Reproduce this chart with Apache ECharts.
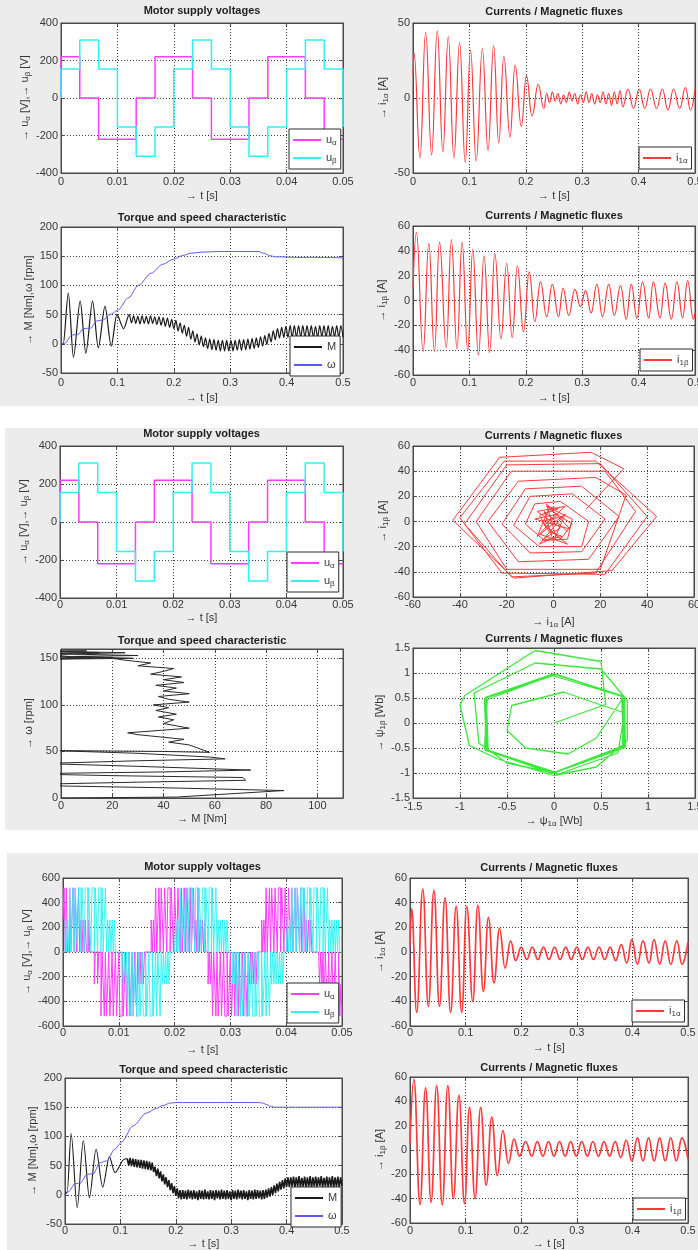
<!DOCTYPE html>
<html><head><meta charset="utf-8">
<script src="https://cdn.jsdelivr.net/npm/echarts@6/dist/echarts.min.js"></script>
<style>html,body{margin:0;padding:0;background:#fff}#c{width:698px;height:1250px}</style>
</head><body><div id="c"></div><script>
// ================= DATA =================
// Panels 1 & 2: six-step motor supply voltages (step points)
const stepTime   = [0, 0, 0.00333, 0.00667, 0.01, 0.01333, 0.01667, 0.02, 0.02333, 0.02667, 0.03, 0.03333, 0.03667, 0.04, 0.04333, 0.04667, 0.05];
const uAlphaStep = [0, 220, 0, -220, -220, 0, 220, 220, 0, -220, -220, 0, 220, 220, 0, -220, -220];
const uBetaStep  = [0, 155, 310, 155, -155, -310, -155, 155, 310, 155, -155, -310, -155, 155, 310, 155, -155];

// Panel 1: stator current i1alpha [t, A]
const i1aP1 = [[0,15],[0.0018,30],[0.0124,-40],[0.0224,44],[0.033,-38],[0.043,45],[0.053,-36],[0.0625,41],[0.0726,-40],[0.0826,37],[0.0926,-43],[0.102,32],[0.112,-42],[0.123,33],[0.133,-35],[0.143,35],[0.152,-30],[0.161,28],[0.172,-26],[0.181,22],[0.192,-19],[0.201,15],[0.211,-12],[0.222,9],[0.232,-7],[0.237,3],[0.242,-3],[0.247,4],[0.252,-2],[0.257,3],[0.262,-4],[0.267,2],[0.272,-3],[0.277,4],[0.282,-2],[0.287,3],[0.292,-4],[0.297,2],[0.302,-3],[0.307,4],[0.312,-3],[0.317,3],[0.322,-4],[0.327,2],[0.332,-3],[0.337,4],[0.342,-4],[0.347,3],[0.352,-5],[0.357,4],[0.362,-4],[0.367,5],[0.372,-6],[0.381,6],[0.391,-7],[0.401,6],[0.411,-7],[0.421,6],[0.432,-7],[0.442,6],[0.452,-8],[0.462,6],[0.473,-7],[0.483,7],[0.492,-8],[0.5,6]];
// Panel 1: stator current i1beta
const i1bP1 = [[0,10],[0.006,55],[0.018,-41],[0.028,46],[0.038,-41],[0.047,47],[0.059,-38],[0.068,49],[0.078,-39],[0.087,47],[0.097,-40],[0.106,41],[0.116,-44],[0.126,36],[0.136,-42],[0.145,38],[0.156,-31],[0.166,30],[0.176,-30],[0.185,28],[0.196,-25],[0.206,23],[0.216,-17],[0.226,15],[0.237,-13],[0.247,13],[0.258,-13],[0.266,10],[0.276,-12],[0.287,9],[0.297,-5],[0.306,8],[0.316,-10],[0.326,13],[0.336,-13],[0.347,13],[0.357,-12],[0.368,12],[0.378,-15],[0.387,13],[0.397,-14],[0.407,15],[0.418,-14],[0.426,15],[0.438,-14],[0.447,14],[0.458,-15],[0.468,15],[0.478,-14],[0.487,16],[0.497,-15],[0.5,-10]];
// Panel 1: torque M (start-up swing) and ripple band sampled from 0.125 s every 3.75 ms
const mStartP1 = [[0,0],[0.004,0],[0.013,87],[0.022,-23],[0.034,73],[0.044,-16],[0.056,73],[0.066,-7],[0.078,64],[0.089,-4],[0.099,50],[0.111,26],[0.121,50]];
const mBandP1T0 = 0.125, mBandP1Dt = 0.00375;
const mBandP1 = [36,48,35,47,34,48,35,47,34,48,35,46,33,46,32,45,30,44,28,42,26,
  40,22,36,18,32,13,28,8,22,3,17,-2,13,-5,10,-8,8,-10,7,-11,
  6,-12,6,-12,6,-12,6,-12,6,-11,7,-11,7,-10,8,-9,9,-8,10,-6,
  12,-4,14,-1,18,3,22,7,26,10,28,11,30,11,31,11,31,11,31,11,
  31,11,31,12,31,11,30,11,31,12,31,11,31,11,30,12,31,11,31,11];
// Panel 1: speed omega [t, rpm]
const wP1 = [[0,0],[0.007,1],[0.019,15],[0.03,16],[0.04,26],[0.053,27],[0.063,39],[0.075,41],[0.087,50],[0.1,57],[0.12,79],[0.137,100],[0.16,121],[0.18,136],[0.2,145],[0.215,151],[0.23,155],[0.25,157],[0.28,158],[0.3,158],[0.33,158],[0.35,158],[0.36,155],[0.37,151],[0.38,149],[0.42,148],[0.46,148],[0.5,147]];

// Panel 2: current trajectory [i1alpha, i1beta]
const iTraj = [[14,10],[30,42],[16,55],[-23,51],[-43,1],[-17,-45],[25,-39],[44,4],[18,48],[-21,48],[-40,3],[-22,-41],[22,-42],[40,4],[20,46],[-20,45],[-38,-2],[-18,-44],[18,-41],[35,8],[22,40],[-18,40],[-33,0],[-20,-38],[20,-38],[31,21],[18,35],[-15,32],[-28,0],[-15,-32],[15,-30],[28,4],[12,28],[-12,26],[-22,-2],[-10,-25],[12,-24],[22,2],[8,22],[-10,20],[-17,-3],[-6,-20],[12,-20],[15,0],[3,16],[-8,14],[-12,-2],[-4,-15],[6,-14],[8,2],[-3,12],[2,10],[-6,5],[-2,-8],[4,-12],[-5,-15],[3,-5],[-7,8],[5,12],[-4,-3],[6,-18],[-6,-10],[2,6],[-8,2],[7,-6],[-3,14],[1,-12],[-6,-18],[4,4],[-5,0],[3,-14],[8,-2],[-2,10],[-7,-12],[5,6],[0,-16],[-4,8],[6,-8]];
// Panel 2: torque-speed trajectory [M, omega]
const mwTraj = [[0,0],[45,1],[87,8],[40,11],[-23,14],[30,17],[72,19],[71,22],[20,24],[-16,26],[40,28],[74,30],[30,34],[-7,37],[30,40],[64,42],[58,44],[30,48],[-4,51],[40,50],[58,49],[50,57],[42,60],[48,63],[30,68],[26,70],[50,75],[40,80],[44,84],[38,87],[45,90],[37,94],[42,97],[36,100],[50,103],[42,106],[38,109],[50,112],[40,115],[45,118],[37,121],[48,124],[40,127],[47,130],[35,133],[40,136],[44,139],[30,142],[35,145],[25,148],[20,150],[5,152],[30,153],[-5,155],[15,156],[-8,157],[10,158],[-10,158],[25,156],[-6,154],[12,150],[-8,152],[20,151],[-5,149],[28,150],[5,152]];
// Panel 2: flux trajectory [psi1alpha, psi1beta]
const psiTraj = [[0,0],[0.55,0.37],[0.5,1.23],[-0.2,1.45],[-0.95,0.55],[-1.0,0.36],[-0.9,-0.45],[-0.6,-0.72],[0.0,-1.05],[0.45,-0.88],[0.78,-0.35],[0.78,0.45],[0.5,1.08],[-0.2,1.2],[-0.85,0.6],[-0.8,-0.4],[-0.5,-0.8],[0.05,-1.02],[0.68,-0.6],[0.75,0.2],[0.1,0.62],[-0.45,0.35],[-0.5,-0.15],[-0.3,-0.5],[0.15,-0.62],[0.45,-0.3],[0.74,0.52],[0.02,0.98],[-0.73,0.5],[-0.73,-0.55],[0,-1.0],[0.75,-0.47],[0.73,0.53],[-0.02,0.95],[-0.71,0.47],[-0.74,-0.52],[0.02,-0.99],[0.74,-0.45],[0.72,0.55],[0.0,0.99],[-0.72,0.52],[-0.7,-0.56],[-0.02,-1.01],[0.76,-0.49],[0.75,0.51],[0.03,0.97],[-0.74,0.49],[-0.72,-0.53],[0.01,-0.98],[0.73,-0.46],[0.74,0.54],[-0.01,0.98],[-0.73,0.51],[-0.71,-0.54],[0,-1.0],[0.75,-0.48],[0.73,0.53]];

// Panel 3: PWM voltages, one level per 0.2 ms step
const pwmDt = 0.0002;
const uAlphaPWM = [260,520,0,520,0,0,520,0,260,520,0,520,0,260,520,0,260,0,260,0,260,0,
  0,260,0,0,0,0,-260,0,0,
  -260,0,0,-520,0,-260,-520,0,-520,-260,0,-520,-260,0,-520,-260,0,-520,-260,0,-520,-520,0,-520,-260,0,-520,-260,0,-520,-260,0,-520,0,-260,-520,0,-260,0,-260,0,-260,
  0,0,0,0,0,0,
  260,0,260,0,520,0,260,520,0,520,260,0,520,260,0,520,520,0,520,260,0,520,260,0,520,260,0,520,0,260,520,0,520,260,0,520,0,260,520,0,260,0,520,0,260,0,260,0,260,
  0,0,
  -260,0,-260,0,-520,0,-260,-520,0,-520,-260,0,-520,-260,0,-520,-520,0,-520,-260,0,-520,-260,0,-520,0,-260,-520,0,-520,-260,0,-520,0,-260,-520,0,-260,0,-260,0,-260,0,-260,
  0,0,0,0,
  260,0,260,0,520,0,260,520,0,520,260,0,520,260,0,520,520,0,520,260,0,520,260,0,520,260,0,520,0,260,520,0,520,260,0,520,0,260,520,0,260,0,260,0,260,0,
  0,0,0,0,0,0,
  -260,0,-260,0,-520,0,-260,-520,0,-520,-260,0,-520,-260,0,-520,-520,0,-520,-260,-520];
const uBetaPWM = [0,0,
  260,0,260,0,520,0,260,520,0,520,260,0,520,520,0,520,260,0,520,520,0,520,260,0,520,520,0,520,260,0,520,520,0,520,0,260,520,0,260,0,260,0,260,0,260,0,
  0,0,0,0,0,0,
  -260,0,-260,0,-520,0,-260,-520,0,-520,-260,0,-520,-520,0,-520,-260,0,-520,-520,0,-520,-260,0,-520,-520,0,-520,-260,0,-520,0,-260,-520,0,-260,0,-260,0,-260,0,-260,0,
  0,0,0,0,
  260,0,260,0,520,0,260,520,0,520,260,0,520,520,0,520,260,0,520,520,0,520,260,0,520,520,0,520,260,0,520,520,0,520,0,260,520,0,260,0,260,0,260,0,260,0,260,
  0,0,0,0,
  -260,0,-260,0,-520,0,-260,-520,0,-520,-260,0,-520,-520,0,-520,-260,0,-520,-520,0,-520,-260,0,-520,-520,0,-520,-260,0,-520,0,-260,-520,0,-260,0,-260,0,-260,0,-260,0,-260,0,-260,
  0,0,0,
  260,0,260,0,520,0,260,520,0,520,260,0,520,520,0,520,260,0,520,520,0,520,260,0,520,520,0,520,260,0,520,520,0,520,0,260,520,0,260,0,260,0,260,0,260,0,260,
  0,0,0];
// Panel 3: currents
const i1aP3 = [[0,5],[0.003,35],[0.012,-49],[0.023,51],[0.033,-44],[0.043,50],[0.053,-44],[0.063,44],[0.073,-49],[0.083,37],[0.093,-49],[0.102,37],[0.113,-40],[0.122,38],[0.132,-32],[0.141,28],[0.151,-25],[0.161,19],[0.171,-13],[0.181,9],[0.19,-7],[0.2,4],[0.21,-6],[0.22,4],[0.23,-6],[0.24,4],[0.25,-6],[0.26,4],[0.27,-6],[0.28,4],[0.29,-6],[0.3,4],[0.31,-6],[0.32,4],[0.33,-6],[0.34,4],[0.35,-6],[0.36,4],[0.37,-7],[0.38,6],[0.39,-9],[0.399,10],[0.409,-10],[0.419,9],[0.43,-9],[0.439,10],[0.449,-10],[0.459,9],[0.469,-10],[0.48,9],[0.489,-10],[0.5,8]];
const i1bP3 = [[0,5],[0.007,58],[0.018,-45],[0.028,51],[0.038,-43],[0.048,53],[0.058,-45],[0.068,53],[0.078,-40],[0.088,45],[0.098,-44],[0.107,35],[0.117,-40],[0.127,35],[0.137,-29],[0.147,27],[0.157,-21],[0.167,16],[0.177,-11],[0.187,9],[0.197,-5],[0.208,7],[0.219,-5],[0.229,7],[0.239,-5],[0.249,7],[0.259,-5],[0.269,7],[0.279,-5],[0.289,7],[0.299,-5],[0.309,7],[0.319,-5],[0.329,7],[0.339,-5],[0.349,7],[0.359,-5],[0.369,7],[0.379,-6],[0.389,8],[0.399,-9],[0.409,10],[0.419,-9],[0.429,10],[0.439,-9],[0.449,10],[0.459,-9],[0.469,10],[0.479,-9],[0.489,10],[0.5,-8]];
// Panel 3: torque (start-up swing) + ripple band sampled from 0.1125 s every 2.5 ms
const mStartP3 = [[0,0],[0.004,5],[0.011,105],[0.022,-22],[0.033,93],[0.044,-5],[0.056,78],[0.068,13],[0.08,65],[0.09,38],[0.107,61],[0.1125,62]];
const mBandP3T0 = 0.1125, mBandP3Dt = 0.0025;
const mBandP3 = [62,50,63,49,62,48,61,47,60,46,60,45,59,44,58,43,57,42,55,39,
  48,32,45,28,40,23,35,18,30,13,25,8,20,3,15,-2,11,-6,8,-8,
  8,-7,7,-8,9,-6,7,-8,8,-7,6,-9,8,-7,7,-8,9,-7,6,-8,8,-7,7,-9,8,-6,7,-8,9,-7,
  7,-8,8,-7,6,-9,8,-7,7,-8,9,-6,7,-8,8,-7,6,-9,8,-7,7,-8,9,-7,8,-6,7,-8,8,-7,
  9,-5,11,-3,13,0,16,3,19,6,22,9,25,11,28,13,30,13,30,14,
  31,13,30,14,32,13,29,14,31,13,30,14,32,12,30,14,31,13,30,15,32,13,29,14,31,13,30,14,32,12,30,14,31,13,30,15];
const wP3 = [[0,0],[0.006,5],[0.018,19],[0.027,20],[0.04,35],[0.051,36],[0.063,55],[0.075,58],[0.09,78],[0.102,90],[0.123,118],[0.147,140],[0.165,148],[0.177,153],[0.19,157],[0.2,158],[0.25,158],[0.3,158],[0.35,158],[0.357,157],[0.365,154],[0.372,151],[0.38,150],[0.5,150]];

// Axis ranges [min, max, interval] and texts
const xRange = [[0,0.05,0.01],[0,0.5,0.1],[0,0.5,0.1],[0,0.5,0.1],[0,0.05,0.01],[-60,60,20],[0,110,20],[-1.5,1.5,0.5],[0,0.05,0.01],[0,0.5,0.1],[0,0.5,0.1],[0,0.5,0.1]];
const yRange = [[-400,400,200],[-50,50,50],[-50,200,50],[-60,60,20],[-400,400,200],[-60,60,20],[0,160,50],[-1.5,1.5,0.5],[-600,600,200],[-60,60,20],[-50,200,50],[-60,60,20]];
const titles = ['Motor supply voltages','Currents / Magnetic fluxes','Torque and speed characteristic','Currents / Magnetic fluxes',
  'Motor supply voltages','Currents / Magnetic fluxes','Torque and speed characteristic','Currents / Magnetic fluxes',
  'Motor supply voltages','Currents / Magnetic fluxes','Torque and speed characteristic','Currents / Magnetic fluxes'];
const UNAME = '→ u{s|α} [V],→ u{s|β} [V]';
const xNames = ['→ t [s]','→ t [s]','→ t [s]','→ t [s]','→ t [s]','→ i{s|1α} [A]','→ M [Nm]','→ ψ{s|1α} [Wb]','→ t [s]','→ t [s]','→ t [s]','→ t [s]'];
const yNames = [UNAME,'→ i{s|1α} [A]','→ M [Nm],ω [rpm]','→ i{s|1β} [A]',UNAME,'→ i{s|1β} [A]','→ ω [rpm]','→ ψ{s|1β} [Wb]',UNAME,'→ i{s|1α} [A]','→ M [Nm],ω [rpm]','→ i{s|1β} [A]'];
const legendItems = [['uα','uβ'],['i1α'],['M','ω'],['i1β'],['uα','uβ'],null,null,null,['uα','uβ'],['i1α'],['M','ω'],['i1β']];

// ================= LAYOUT / STYLE =================
const layout = [
 {l:61,t:23,w:282,h:150, ty:10.7, xm:3, xg:16, yg:25.7, lg:[289,129]},
 {l:413,t:23,w:282,h:150, ty:12.3, xm:3, xg:16, yg:23, lg:[639,147]},
 {l:61,t:227,w:282,h:146, ty:218.3, xm:4, xg:17.7, yg:19, lg:[290,336]},
 {l:413,t:226,w:282,h:149, ty:215.7, xm:2, xg:16.3, yg:24, lg:[640,349]},
 {l:60,t:446,w:283,h:152, ty:434, xm:1, xg:12, yg:24.7, lg:[287,552]},
 {l:413,t:446,w:281,h:151, ty:435.7, xm:2, xg:18, yg:22.7},
 {l:61,t:649,w:282,h:149, ty:641, xm:2, xg:14, yg:22.3},
 {l:413,t:648,w:282,h:150, ty:639, xm:3, xg:16, yg:26},
 {l:63,t:878,w:279,h:148, ty:866.7, xm:1, xg:17, yg:26, lg:[287,983]},
 {l:410,t:878,w:278,h:148, ty:868.3, xm:1, xg:15, yg:21.3, lg:[632,1000]},
 {l:65,t:1078,w:277,h:146, ty:1070, xm:1, xg:10.7, yg:24.7, lg:[291,1187]},
 {l:410,t:1077,w:278,h:146, ty:1067.7, xm:2, xg:14, yg:21.3, lg:[633,1198]}
];
const FONT = "'Liberation Sans', Arial, Helvetica, sans-serif";
const TXT = '#383838', AX = '#4a4a4a', GRAY = '#ececec';
const MAG = '#ff3cff', CYA = '#2ef2f2', RED = '#ff3a3a', BLK = '#1a1a1a', BLU = '#5a5aff', GRN = '#3be83b';
const RICH = { s: { fontFamily: FONT, fontSize: 8, lineHeight: 9, verticalAlign: 'bottom', color: TXT } };
const LEG = {'uα':'u{s|α}','uβ':'u{s|β}','i1α':'i{s|1α}','i1β':'i{s|1β}','M':'M','ω':'ω'};

function axis(i, r, name, dim) {
  const g = layout[i];
  const ax = {
    type: 'value', gridIndex: i, min: r[0], max: r[1], interval: r[2],
    position: dim === 'x' ? 'bottom' : 'left',
    name: name, nameLocation: 'middle', nameGap: dim === 'x' ? g.xg : g.yg,
    nameTextStyle: { fontFamily: FONT, fontSize: 11, color: TXT, lineHeight: 14, rich: RICH },
    axisLine: { show: true, onZero: false, lineStyle: { color: AX, width: 1 } },
    axisTick: { show: true, inside: true, length: 4, lineStyle: { color: AX } },
    axisLabel: { fontFamily: FONT, fontSize: 11, color: TXT, margin: dim === 'x' ? g.xm : 3 },
    splitLine: { show: true, lineStyle: { color: '#3c3c3c', type: [1, 2], width: 1 } }
  };
  if (dim === 'y') ax.nameRotate = 90;
  if (i === 6) ax.axisLabel.showMaxLabel = false;
  return ax;
}
// mirrored top/right axes: ticks only (box style)
function mirror(i, r, dim) {
  return { type: 'value', gridIndex: i, min: r[0], max: r[1], interval: r[2], position: dim === 'x' ? 'top' : 'right',
    axisLine: { show: true, onZero: false, lineStyle: { color: AX, width: 1 } },
    axisTick: { show: true, inside: true, length: 4, lineStyle: { color: AX } },
    axisLabel: { show: false }, splitLine: { show: false } };
}

const grid = [], xAxis = [], yAxis = [], title = [], legend = [], series = [];
layout.forEach((g, i) => {
  grid.push({ left: g.l, top: g.t, width: g.w, height: g.h, show: true, backgroundColor: '#fff', borderColor: AX, borderWidth: 1, containLabel: false, outerBoundsMode: 'none' });
  title.push({ text: titles[i], left: g.l + g.w / 2, top: g.ty - 7, textAlign: 'center', padding: 0,
    textStyle: { fontFamily: FONT, fontSize: 11, fontWeight: 'bold', color: '#1e1e1e', lineHeight: 14 } });
  xAxis[i] = axis(i, xRange[i], xNames[i], 'x');
  yAxis[i] = axis(i, yRange[i], yNames[i], 'y');
  xAxis[12 + i] = mirror(i, xRange[i], 'x');
  yAxis[12 + i] = mirror(i, yRange[i], 'y');
  if (legendItems[i]) {
    legend.push({ left: g.lg[0], top: g.lg[1], orient: 'vertical', data: legendItems[i], icon: 'rect',
      itemWidth: 28, itemHeight: 2, itemGap: 4, padding: [4, 4, 4, 4], backgroundColor: '#fff',
      borderColor: '#2a2a2a', borderWidth: 1, selectedMode: false,
      textStyle: { fontFamily: FONT, fontSize: 11, color: TXT, lineHeight: 14, rich: RICH },
      formatter: n => LEG[n] });
  }
});

function line(g, name, data, color, opt) {
  opt = opt || {};
  const s = { type: 'line', name: name, xAxisIndex: g, yAxisIndex: g, data: data, symbol: 'none', showSymbol: false,
    lineStyle: { color: color, width: opt.w || 1, opacity: opt.op || 1 }, itemStyle: { color: color }, animation: false, silent: true, clip: true };
  if (opt.smooth) { s.smooth = opt.smooth; s.smoothMonotone = 'x'; }
  if (opt.step) s.step = opt.step;
  series.push(s);
}
const zipT = (t, v) => t.map((x, k) => [x, v[k]]);
const band = (t0, dt, v) => v.map((y, k) => [t0 + k * dt, y]);

// Panel 1
line(0, 'uα', zipT(stepTime, uAlphaStep), MAG, { step: 'end', w: 1.5 });
line(0, 'uβ', zipT(stepTime, uBetaStep), CYA, { step: 'end', w: 1.5 });
line(1, 'i1α', i1aP1, RED, { smooth: 0.45, w: 1.2 });
line(2, 'M', mStartP1.concat(band(mBandP1T0, mBandP1Dt, mBandP1)), BLK, { smooth: 0.3, w: 1.2 });
line(2, 'ω', wP1, BLU, { smooth: 0.3 });
line(3, 'i1β', i1bP1, RED, { smooth: 0.45, w: 1.2 });
// Panel 2
line(4, 'uα', zipT(stepTime, uAlphaStep), MAG, { step: 'end', w: 1.5 });
line(4, 'uβ', zipT(stepTime, uBetaStep), CYA, { step: 'end', w: 1.5 });
line(5, 'i1β(i1α)', iTraj, RED);
line(6, 'ω(M)', mwTraj, '#2a2a2a');
line(7, 'ψ1β(ψ1α)', psiTraj, GRN, { w: 1.3 });
// Panel 3
line(8, 'uα', uAlphaPWM.map((v, k) => [k * pwmDt, v]), MAG, { step: 'end' });
line(8, 'uβ', uBetaPWM.map((v, k) => [k * pwmDt, v]), CYA, { step: 'end', op: 0.9 });
line(9, 'i1α', i1aP3, RED, { smooth: 0.45, w: 1.7 });
line(10, 'M', mStartP3, BLK, { smooth: 0.3, w: 1.1 });
line(10, 'M', band(mBandP3T0, mBandP3Dt, mBandP3), BLK, { w: 1.6 });
line(10, 'ω', wP3, BLU, { smooth: 0.3 });
line(11, 'i1β', i1bP3, RED, { smooth: 0.45, w: 1.7 });

const panels = [[0,0,698,406],[5,428,693,402],[7,853,691,397]];
const graphic = panels.map(p => ({ type: 'rect', z: -10, silent: true, shape: { x: p[0], y: p[1], width: p[2], height: p[3] }, style: { fill: GRAY } }));

const chart = echarts.init(document.getElementById('c'), null, { renderer: 'canvas' });
chart.setOption({ animation: false, backgroundColor: '#fff', graphic: graphic, title: title, grid: grid, xAxis: xAxis, yAxis: yAxis, legend: legend, series: series });
</script></body></html>
